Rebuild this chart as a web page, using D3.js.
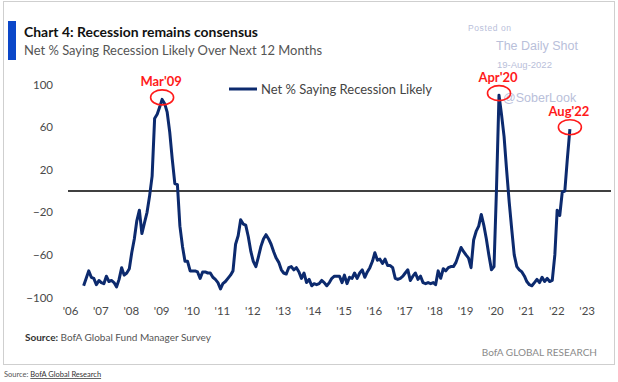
<!DOCTYPE html>
<html><head><meta charset="utf-8">
<script src="https://cdn.jsdelivr.net/npm/d3@7"></script>
<style>
html,body{margin:0;padding:0;background:#fff;}
svg{display:block;}
</style></head>
<body>
<svg id="chart" width="618" height="382"></svg>
<script>
// ---- data ----
const startMonth = "2006-08";
const values = [
  // 2006 Aug-Dec
  -89,-82,-75,-81,-82,
  // 2007
  -88,-84,-86,-87,-80,-85,-84,-86,-90,-83,-72,-79,
  // 2008
  -77,-73,-58,-45,-28,-18,-40,-30,-20,-5,14,68,
  // 2009
  72,79,86,82,74,55,30,7,6,-33,-52,-66,
  // 2010
  -66,-75,-75,-75,-76,-82,-76,-76,-77,-77,-81,-83,
  // 2011
  -86,-92,-87,-85,-82,-79,-75,-50,-42,-27,-31,-32,
  // 2012
  -43,-57,-66,-71,-62,-52,-45,-41,-45,-50,-57,-63,
  // 2013
  -67,-74,-77,-78,-72,-71,-74,-72,-76,-82,-77,-86,
  // 2014
  -83,-89,-87,-88,-87,-84,-86,-89,-86,-82,-80,-80,
  // 2015
  -80,-86,-79,-87,-81,-82,-77,-82,-77,-74,-81,-76,
  // 2016
  -72,-66,-58,-65,-64,-68,-64,-70,-70,-72,-82,-83,
  // 2017
  -82,-80,-77,-74,-84,-80,-77,-83,-80,-86,-87,-86,
  // 2018
  -87,-86,-88,-75,-82,-73,-75,-72,-71,-71,-67,-60,
  // 2019
  -53,-57,-60,-63,-72,-46,-38,-33,-22,-32,-45,-60,
  // 2020
  -74,-71,0,90,72,51,20,-10,-36,-60,-71,-74,
  // 2021
  -76,-80,-85,-88,-89,-86,-83,-86,-81,-85,-82,-85,
  // 2022 Jan-Aug
  -84,-60,-18,-23,-1,0,30,58
];
const yTicks = [100, 60, 20, -20, -60, -100];
const xYears = [2006,2007,2008,2009,2010,2011,2012,2013,2014,2015,2016,2017,2018,2019,2020,2021,2022,2023];
const xTickLabels = ["'06","'07","'08","'09","'10","'11","'12","'13","'14","'15","'16","'17","'18","'19","'20","'21","'22","'23"];
const annotations = [
  {label:"Mar'09", date:"2009-03"},
  {label:"Apr'20", date:"2020-04"},
  {label:"Aug'22", date:"2022-08"}
];
const seriesName = "Net % Saying Recession Likely";

// ---- build ----
const parse = d3.timeParse("%Y-%m");
const t0 = parse(startMonth);
const data = values.map((v,i)=>({date:d3.timeMonth.offset(t0,i), value:v}));

const svg = d3.select("#chart");
const x = d3.scaleTime().domain([new Date(2006,0,1), new Date(2024,0,1)]).range([66, 613]);
const y = d3.scaleLinear().domain([-100,100]).range([297.5,84.5]);

// outer frame
svg.append("rect").attr("x",3.5).attr("y",1.5).attr("width",611).attr("height",363)
  .attr("fill","#fff").attr("stroke","#cfcfcf").attr("stroke-width",1);

// header
svg.append("rect").attr("x",8).attr("y",21).attr("width",8).attr("height",39).attr("fill","#0b47c9");
svg.append("text").attr("x",24).attr("y",37).attr("font-family","Lato, 'Noto Sans', sans-serif")
  .attr("font-weight","bold").attr("font-size",13.5).attr("fill","#111")
  .attr("textLength",234).attr("lengthAdjust","spacingAndGlyphs")
  .text("Chart 4: Recession remains consensus");
svg.append("text").attr("x",24).attr("y",55).attr("font-family","Lato, 'Noto Sans', sans-serif")
  .attr("font-size",14).attr("fill","#555")
  .attr("textLength",298).attr("lengthAdjust","spacingAndGlyphs")
  .text("Net % Saying Recession Likely Over Next 12 Months");

// watermark
const wm = svg.append("g").attr("font-family","'Liberation Sans', Arial, sans-serif").attr("fill","#b9c0da");
wm.append("text").attr("x",468).attr("y",31).attr("font-size",8.5).attr("letter-spacing",0.6).text("Posted on");
wm.append("text").attr("x",496).attr("y",50).attr("font-size",12.5).text("The Daily Shot");
wm.append("text").attr("x",497).attr("y",67.5).attr("font-size",9.5).text("19-Aug-2022");
wm.append("text").attr("x",503).attr("y",101.5).attr("font-size",12.5).text("@SoberLook");

// y axis
const yAxis = svg.append("g").attr("transform","translate(53,0)")
  .call(d3.axisLeft(y).tickValues(yTicks).tickSize(0).tickPadding(0).tickFormat(d3.format("d")));
yAxis.select(".domain").remove();
yAxis.selectAll("text").attr("font-family","Lato, 'Noto Sans', sans-serif").attr("font-size",11.5).attr("fill","#4a4a4a");

// x axis
const xAxis = svg.append("g").attr("transform","translate(0,307)")
  .call(d3.axisBottom(x).tickValues(xYears.map(yr=>new Date(yr,0,1))).tickSize(0).tickPadding(0)
    .tickFormat((d,i)=>xTickLabels[i]));
xAxis.select(".domain").remove();
xAxis.selectAll("text").attr("font-family","Lato, 'Noto Sans', sans-serif").attr("font-size",11.5)
  .attr("fill","#4a4a4a").attr("dx",4);

// zero line
svg.append("line").attr("x1",68).attr("x2",611).attr("y1",y(0)).attr("y2",y(0))
  .attr("stroke","#404040").attr("stroke-width",1.8);

// series
svg.append("path").datum(data)
  .attr("fill","none").attr("stroke","#0c2a6e").attr("stroke-width",3).attr("stroke-linejoin","round")
  .attr("d", d3.line().x(d=>x(d.date)).y(d=>y(d.value)));

// legend
svg.append("line").attr("x1",229).attr("x2",257).attr("y1",89).attr("y2",89)
  .attr("stroke","#0c2a6e").attr("stroke-width",3);
svg.append("text").attr("x",261).attr("y",93.5).attr("font-family","Lato, 'Noto Sans', sans-serif")
  .attr("font-size",13).attr("fill","#444").attr("textLength",171).attr("lengthAdjust","spacingAndGlyphs")
  .text(seriesName);

// annotations
annotations.forEach(a=>{
  const d = data.find(p=>d3.timeFormat("%Y-%m")(p.date)===a.date);
  const cx = x(d.date), cy = y(d.value);
  svg.append("ellipse").attr("cx",cx).attr("cy",cy-2).attr("rx",11.5).attr("ry",7.5)
    .attr("fill","none").attr("stroke","#ff1a1a").attr("stroke-width",1.6);
  svg.append("text").attr("x",cx-1).attr("y",cy-13).attr("text-anchor","middle")
    .attr("font-family","Lato, 'Noto Sans', sans-serif").attr("font-weight","bold")
    .attr("font-size",13).attr("fill","#ff1a1a").text(a.label);
});

// source
const src = svg.append("text").attr("x",25).attr("y",341).attr("font-family","Lato, 'Noto Sans', sans-serif")
  .attr("font-size",10).attr("fill","#333");
src.append("tspan").attr("font-weight","bold").text("Source: ");
src.append("tspan").attr("fill","#555").text("BofA Global Fund Manager Survey");
svg.append("text").attr("x",597).attr("y",356).attr("text-anchor","end")
  .attr("font-family","Lato, 'Noto Sans', sans-serif").attr("font-size",10).attr("fill","#8a8a8a")
  .text("BofA GLOBAL RESEARCH");

// footer
const foot = svg.append("text").attr("x",4).attr("y",377).attr("font-family","Lato, 'Noto Sans', sans-serif")
  .attr("font-size",7.5).attr("fill","#555");
foot.append("tspan").text("Source: ");
foot.append("tspan").attr("text-decoration","underline").attr("fill","#333").text("BofA Global Research");
</script>
</body></html>
